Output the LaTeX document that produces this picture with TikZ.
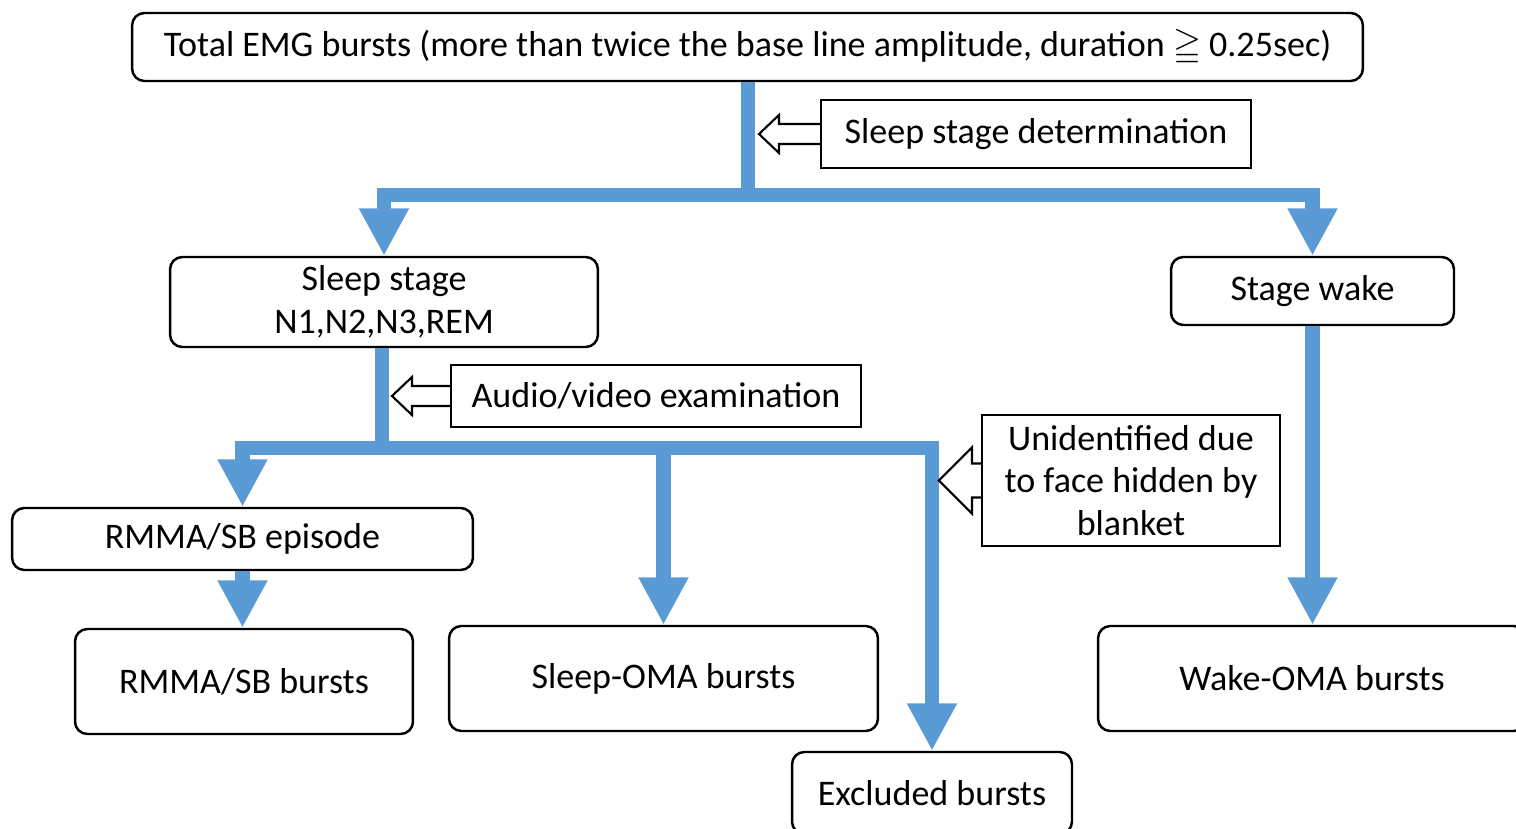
\documentclass[tikz,border=0pt]{standalone}
\usepackage{fontspec}
\usepackage{amssymb}
\setmainfont{Carlito}
\usetikzlibrary{arrows.meta,calc}
\definecolor{eblue}{RGB}{91,155,213}
\begin{document}
\begin{tikzpicture}[x=0.02cm,y=-0.02cm,
 font=\fontsize{20.5}{24.3}\selectfont,
 rbox/.style={draw, line width=1.4pt, rounded corners=7pt, align=center, inner sep=0pt},
 lbox/.style={draw, line width=1.2pt, align=center, inner sep=0pt},
 arr/.style={draw=eblue, line width=8.5pt, line join=miter, -{Triangle[length=27pt,width=26.6pt]}},
 stem/.style={draw=eblue, line width=8.5pt},
 hol/.style={draw, line width=1.2pt, line join=miter}]
\clip (0,0) rectangle (1516,829);
\node[rbox, minimum width=24.62cm, minimum height=1.36cm] (top) at (747.5,47) {Total EMG bursts (more than twice the base line amplitude, duration $\geqq$ 0.25sec)};
\node[lbox, minimum width=8.6cm, minimum height=1.36cm] (sdet) at (1036,134) {Sleep stage determination};
\node[rbox, minimum width=8.56cm, minimum height=1.8cm] (sleep) at (384,302) {Sleep stage\\N1,N2,N3,REM};
\node[rbox, minimum width=5.66cm, minimum height=1.36cm] (wake) at (1312.5,291) {Stage wake};
\node[lbox, minimum width=8.2cm, minimum height=1.24cm] (audio) at (656,396) {Audio/video examination};
\node[lbox, minimum width=5.96cm, minimum height=2.62cm] (unid) at (1131,480.5) {Unidentified due\\to face hidden by\\blanket};
\node[rbox, minimum width=9.22cm, minimum height=1.24cm] (episode) at (242.5,539) {RMMA/SB episode};
\node[rbox, minimum width=6.76cm, minimum height=2.1cm] (bursts) at (244,681.5) {RMMA/SB bursts};
\node[rbox, minimum width=8.58cm, minimum height=2.1cm] (soma) at (663.5,678.5) {Sleep-OMA bursts};
\node[rbox, minimum width=8.56cm, minimum height=2.1cm] (woma) at (1312,678.5) {Wake-OMA bursts};
\node[rbox, minimum width=5.6cm, minimum height=1.64cm] (excl) at (932,793) {Excluded bursts};
% connectors
\coordinate (j1) at (748,195);
\draw[stem] (top.south -| j1) -- (j1);
\draw[arr] (j1) -| (sleep.north);
\draw[arr] (j1) -| (wake.north);
\coordinate (j2) at (382,448);
\draw[stem] (sleep.south -| j2) -- (j2);
\draw[arr] (j2) -| (episode.north);
\draw[arr] (j2) -| (excl.north);
\draw[arr] (soma.north |- j2) -- (soma.north);
\draw[arr] (episode.south) -- (episode.south |- bursts.north);
\draw[arr] (wake.south) -- (wake.south |- woma.north);
% hollow arrows
\draw[hol] (sdet.west) ++(0,-10) -- ++(-41,0) -- ++(0,-9) -- ++(-20,19) -- ++(20,19) -- ++(0,-9) -- ++(41,0);
\draw[hol] (audio.west) ++(0,-10) -- ++(-38,0) -- ++(0,-9) -- ++(-20,19) -- ++(20,19) -- ++(0,-9) -- ++(38,0);
\draw[hol] (unid.west) ++(0,-17) -- ++(-9,0) -- ++(0,-16) -- ++(-33,33) -- ++(33,33) -- ++(0,-16) -- ++(9,0);
\end{tikzpicture}
\end{document}
